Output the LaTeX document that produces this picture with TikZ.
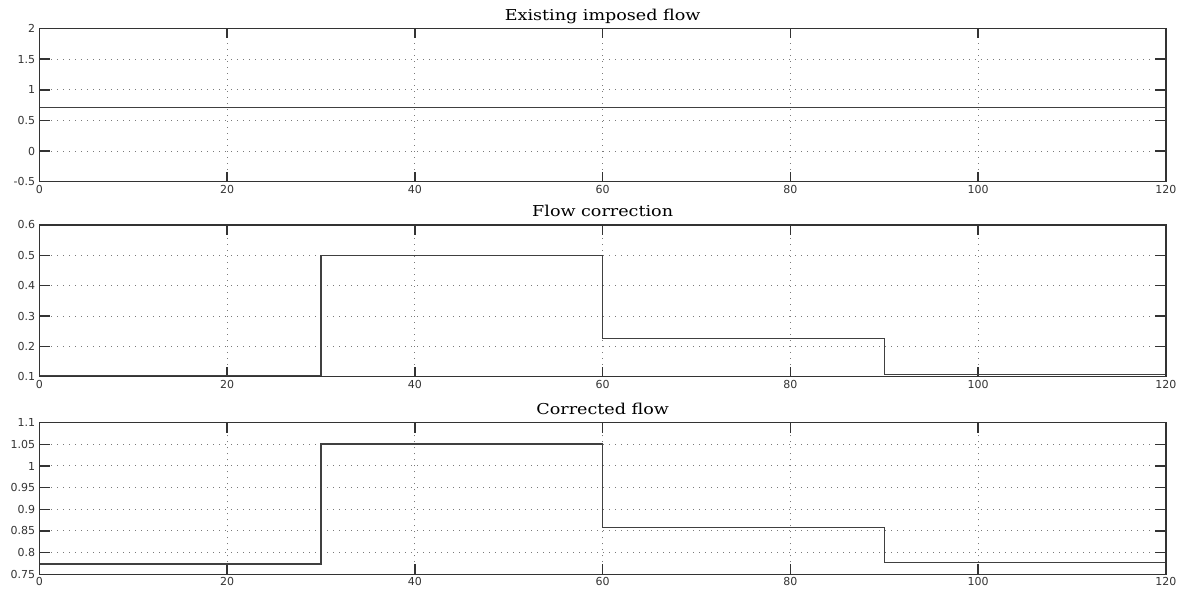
\documentclass[tikz,border=0pt]{standalone}
\usepackage{fontspec}
\newfontfamily\titlefont{DejaVu Serif}
\newfontfamily\tickfont{DejaVu Sans}
\definecolor{framegray}{HTML}{333333}
\definecolor{gridgray}{HTML}{7A7A7A}
\definecolor{curvegray}{HTML}{404040}
\tikzset{
	frame/.style={draw=framegray, line width=1.5pt},
	gridline/.style={gridgray, line width=1pt, dash pattern=on 1pt off 5pt},
	tickmark/.style={framegray, line width=1.5pt},
	curve/.style={curvegray, line width=1.4pt},
	ticklabel/.style={font=\tickfont\fontsize{11}{12}\selectfont, text=framegray, inner sep=1pt},
	plottitle/.style={font=\titlefont\fontsize{15}{16}\selectfont, anchor=base, inner sep=0pt},
}
\newcommand{\widetitle}[1]{\scalebox{1.17}[1]{#1}}
\begin{document}
\begin{tikzpicture}[x=1pt,y=1pt]
	\useasboundingbox (0,0) rectangle (1183,591);
	% Existing imposed flow
	\begin{scope}[shift={(39.3pt,439.94pt)}, x=9.389pt, y=61.28pt]
		\foreach \xv in {20,40,60,80,100} {
			\draw[gridline] (\xv,-0.5) -- (\xv,2);
			\draw[tickmark] (\xv,-0.5) -- ++(0,10pt);
			\draw[tickmark] (\xv,2) -- ++(0,-10pt);
		}
		\foreach \yv in {0,0.5,1,1.5} {
			\draw[gridline] (0,\yv) -- (120,\yv);
			\draw[tickmark] (0,\yv) -- ++(11pt,0);
			\draw[tickmark] (120,\yv) -- ++(-11pt,0);
		}
		\draw[curve] (0,0.714) -- (120,0.714);
		\draw[frame] (0,-0.5) rectangle (120,2);
		\foreach \yv [count=\i] in {-0.5,0,0.5,1,1.5,2}
			\node[ticklabel, anchor=east, xshift=-3pt] (ya\i) at (0,\yv) {\yv};
		\foreach \xv [count=\i] in {0,20,40,60,80,100,120}
			\node[ticklabel, anchor=north, yshift=-2pt] (xa\i) at (\xv,-0.5) {\xv};
		\node[plottitle, yshift=7.5pt] (ta) at (60,2) {\widetitle{Existing imposed flow}};
	\end{scope}
	% Flow correction
	\begin{scope}[shift={(39.3pt,183.96pt)}, x=9.389pt, y=303.4pt]
		\foreach \xv in {20,40,60,80,100} {
			\draw[gridline] (\xv,0.1) -- (\xv,0.6);
			\draw[tickmark] (\xv,0.1) -- ++(0,10pt);
			\draw[tickmark] (\xv,0.6) -- ++(0,-10pt);
		}
		\foreach \yv in {0.2,0.3,0.4,0.5} {
			\draw[gridline] (0,\yv) -- (120,\yv);
			\draw[tickmark] (0,\yv) -- ++(11pt,0);
			\draw[tickmark] (120,\yv) -- ++(-11pt,0);
		}
		\draw[curve] (0,0.1045) -- (30,0.1045) -- (30,0.5) -- (60,0.5) -- (60,0.225)
			-- (90,0.225) -- (90,0.108) -- (120,0.108);
		\draw[frame] (0,0.1) rectangle (120,0.6);
		\foreach \yv [count=\i] in {0.1,0.2,0.3,0.4,0.5,0.6}
			\node[ticklabel, anchor=east, xshift=-3pt] (yb\i) at (0,\yv) {\yv};
		\foreach \xv [count=\i] in {0,20,40,60,80,100,120}
			\node[ticklabel, anchor=north, yshift=-2pt] (xb\i) at (\xv,0.1) {\xv};
		\node[plottitle, yshift=8.5pt] (tb) at (60,0.6) {\widetitle{Flow correction}};
	\end{scope}
	% Corrected flow
	\begin{scope}[shift={(39.3pt,-308.1pt)}, x=9.389pt, y=433.1pt]
		\foreach \xv in {20,40,60,80,100} {
			\draw[gridline] (\xv,0.75) -- (\xv,1.1);
			\draw[tickmark] (\xv,0.75) -- ++(0,10pt);
			\draw[tickmark] (\xv,1.1) -- ++(0,-10pt);
		}
		\foreach \yv in {0.8,0.85,0.9,0.95,1,1.05} {
			\draw[gridline] (0,\yv) -- (120,\yv);
			\draw[tickmark] (0,\yv) -- ++(11pt,0);
			\draw[tickmark] (120,\yv) -- ++(-11pt,0);
		}
		\draw[curve] (0,0.774) -- (30,0.774) -- (30,1.051) -- (60,1.051) -- (60,0.858)
			-- (90,0.858) -- (90,0.777) -- (120,0.777);
		\draw[frame] (0,0.75) rectangle (120,1.1);
		\foreach \yv [count=\i] in {0.75,0.8,0.85,0.9,0.95,1,1.05,1.1}
			\node[ticklabel, anchor=east, xshift=-3pt] (yc\i) at (0,\yv) {\yv};
		\foreach \xv [count=\i] in {0,20,40,60,80,100,120}
			\node[ticklabel, anchor=north, yshift=-2pt] (xc\i) at (\xv,0.75) {\xv};
		\node[plottitle, yshift=8.5pt] (tc) at (60,1.1) {\widetitle{Corrected flow}};
	\end{scope}
\end{tikzpicture}
\end{document}
